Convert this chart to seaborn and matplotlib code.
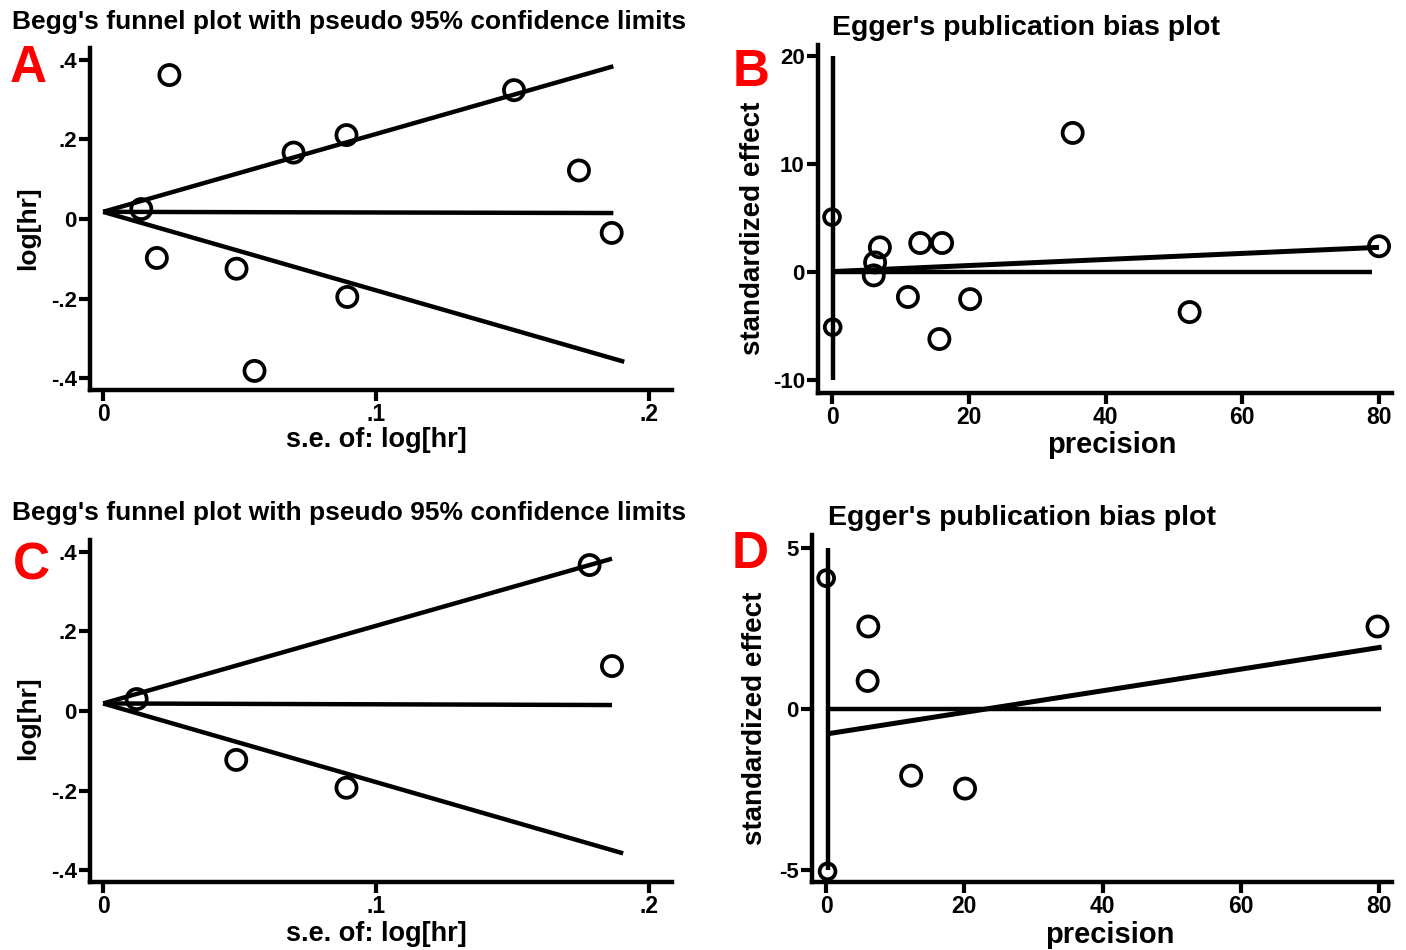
import numpy as np
import pandas as pd
import seaborn as sns
import matplotlib.pyplot as plt

sns.set_theme(style="white")
plt.rcParams['font.family'] = ['Liberation Sans', 'DejaVu Sans']
plt.rcParams['font.weight'] = 'bold'
plt.rcParams['text.color'] = 'black'
plt.rcParams['xtick.color'] = 'black'
plt.rcParams['ytick.color'] = 'black'

# --- A: Begg's funnel (all studies)
a_se = [0.0243, 0.0140, 0.0197, 0.0489, 0.0698, 0.0892, 0.0895, 0.0555, 0.1506, 0.1744, 0.1864]
a_loghr = [0.362, 0.025, -0.098, -0.125, 0.167, 0.211, -0.196, -0.382, 0.324, 0.122, -0.035]
a_up_se, a_up = [0.0, 0.187], [0.018, 0.384]
a_lo_se, a_lo = [0.0, 0.191], [0.018, -0.359]
a_mid_se, a_mid = [0.0, 0.187], [0.018, 0.015]

# --- B: Egger (all studies)
b_prec = [0.0, 0.1, 7.0, 12.9, 16.1, 6.3, 6.1, 11.1, 20.2, 15.7, 35.2, 52.3, 80.0]
b_eff = [5.1, -5.1, 2.3, 2.7, 2.7, 0.9, -0.3, -2.3, -2.5, -6.2, 12.9, -3.7, 2.4]
b_ci_x, b_ci = [0.2, 0.2], [20.0, -10.0]
b_zero_x, b_zero = [0.0, 79.0], [0.0, 0.0]
b_fit_x, b_fit = [0.0, 80.0], [0.05, 2.3]

# --- C: Begg's funnel (subgroup)
c_se = [0.0123, 0.0488, 0.0892, 0.1783, 0.1865]
c_loghr = [0.030, -0.123, -0.193, 0.367, 0.113]
c_up_se, c_up = [0.0, 0.1865], [0.019, 0.383]
c_lo_se, c_lo = [0.0, 0.1906], [0.019, -0.358]
c_mid_se, c_mid = [0.0, 0.1865], [0.019, 0.015]

# --- D: Egger (subgroup)
d_prec = [0.0, 0.2, 6.1, 6.0, 12.3, 20.1, 79.8]
d_eff = [4.05, -5.05, 2.55, 0.86, -2.08, -2.48, 2.55]
d_ci_x, d_ci = [0.2, 0.2], [5.0, -5.0]
d_zero_x, d_zero = [0.0, 80.3], [0.0, 0.0]
d_fit_x, d_fit = [0.2, 80.4], [-0.78, 1.91]

W, H = 1406, 950
fig = plt.figure(figsize=(W / 100, H / 100), dpi=100)


def px_axes(l, t, r, b):
    return fig.add_axes([l / W, 1 - b / H, (r - l) / W, (b - t) / H])


def style(ax, xt, xtl, yt, ytl, xlim, ylim):
    ax.set_xlim(*xlim)
    ax.set_ylim(*ylim)
    ax.set_xticks(xt)
    ax.set_xticklabels(xtl, fontsize=16.5, fontweight='bold')
    ax.set_yticks(yt)
    ax.set_yticklabels(ytl, fontsize=16, fontweight='bold')
    for s in ['top', 'right']:
        ax.spines[s].set_visible(False)
    for s in ['left', 'bottom']:
        ax.spines[s].set_linewidth(3.2)
        ax.spines[s].set_color('black')
    ax.tick_params(direction='out', length=8, width=3, color='black', pad=1.5,
                   left=True, bottom=True)
    ax.set_xlabel('')
    ax.set_ylabel('')
    ax.set_facecolor('white')


def circles(ax, x, y, size=210):
    sns.scatterplot(x=x, y=y, ax=ax, s=size, marker='o', facecolor='none',
                    edgecolor='black', linewidth=2.7, zorder=3, legend=False)


def begg(ax, se, lh, up_se, up, lo_se, lo, mid_se, mid):
    for xs, ys in [(up_se, up), (lo_se, lo), (mid_se, mid)]:
        ax.plot(xs, ys, color='black', lw=3.2, solid_capstyle='butt', zorder=2)
    circles(ax, se, lh)
    style(ax, [0, 0.1, 0.2], ['0', '.1', '.2'],
          [-0.4, -0.2, 0, 0.2, 0.4], ['-.4', '-.2', '0', '.2', '.4'],
          (-0.0048, 0.2085), (-0.43, 0.43))


def egger(ax, prec, eff, ci_x, ci, zx, zy, fx, fy, yt, ytl, ylim):
    ax.plot(ci_x, ci, color='black', lw=3.2, solid_capstyle='butt', zorder=2)
    ax.plot(zx, zy, color='black', lw=3.2, solid_capstyle='butt', zorder=2)
    ax.plot(fx, fy, color='black', lw=3.6, solid_capstyle='butt', zorder=2)
    prec = np.array(prec)
    eff = np.array(eff)
    small = prec < 1
    circles(ax, prec[~small], eff[~small])
    circles(ax, prec[small], eff[small], size=130)
    style(ax, [0, 20, 40, 60, 80], ['0', '20', '40', '60', '80'],
          yt, ytl, (-2.05, 81.9), ylim)


axA = px_axes(90, 48, 672, 390)
begg(axA, a_se, a_loghr, a_up_se, a_up, a_lo_se, a_lo, a_mid_se, a_mid)

axB = px_axes(818, 45, 1392, 393)
egger(axB, b_prec, b_eff, b_ci_x, b_ci, b_zero_x, b_zero, b_fit_x, b_fit,
      [-10, 0, 10, 20], ['-10', '0', '10', '20'], (-11.2, 21.05))

axC = px_axes(90, 540, 672, 882)
begg(axC, c_se, c_loghr, c_up_se, c_up, c_lo_se, c_lo, c_mid_se, c_mid)

axD = px_axes(812, 535, 1392, 882)
egger(axD, d_prec, d_eff, d_ci_x, d_ci, d_zero_x, d_zero, d_fit_x, d_fit,
      [-5, 0, 5], ['-5', '0', '5'], (-5.38, 5.39))


def ftext(x, y, s, **kw):
    fig.text(x / W, 1 - y / H, s, ha='center', va='center', fontweight='bold', **kw)


begg_title = "Begg's funnel plot with pseudo 95% confidence limits"
egger_title = "Egger's publication bias plot"

ftext(349, 22, begg_title, fontsize=19)
ftext(1026, 28, egger_title, fontsize=20.5)
ftext(349, 513, begg_title, fontsize=19)
ftext(1022, 518, egger_title, fontsize=20.5)

ftext(376, 440, 's.e. of: log[hr]', fontsize=19.5)
ftext(1112, 445, 'precision', fontsize=21)
ftext(376, 934, 's.e. of: log[hr]', fontsize=19.5)
ftext(1110, 935, 'precision', fontsize=21)

ftext(28, 228, 'log[hr]', fontsize=19, rotation=90)
ftext(753, 228, 'standardized effect', fontsize=20, rotation=90)
ftext(28, 718, 'log[hr]', fontsize=19, rotation=90)
ftext(755, 718, 'standardized effect', fontsize=20, rotation=90)

for x, y, s in [(28, 69, 'A'), (751, 72, 'B'), (31, 566, 'C'), (750, 555, 'D')]:
    ftext(x, y, s, fontsize=37, color='#ff0000')

fig.savefig('out.png', dpi=100, facecolor='white')
